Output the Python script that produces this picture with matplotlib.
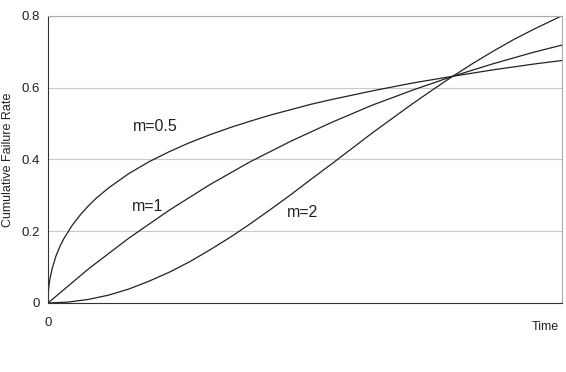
import matplotlib
matplotlib.use("Agg")
import matplotlib.pyplot as plt

plt.rcParams['font.family'] = ['Liberation Sans', 'DejaVu Sans']

# time in units of the characteristic life
t_half = [0, 0.001, 0.002, 0.003, 0.005, 0.01, 0.02, 0.03, 0.04, 0.06, 0.08, 0.1, 0.12,
          0.15, 0.2, 0.25, 0.3, 0.35, 0.4, 0.45, 0.5, 0.55, 0.6, 0.65, 0.7, 0.8, 0.9,
          1.0, 1.1, 1.2, 1.27]
f_half = [0, 0.031, 0.044, 0.053, 0.068, 0.095, 0.132, 0.159, 0.181, 0.217, 0.246, 0.271, 0.293,
          0.321, 0.361, 0.394, 0.422, 0.447, 0.469, 0.489, 0.507, 0.524, 0.539, 0.554, 0.567,
          0.591, 0.613, 0.632, 0.650, 0.666, 0.676]

t_one = [0, 0.1, 0.2, 0.3, 0.4, 0.5, 0.6, 0.7, 0.8, 0.9, 1.0, 1.1, 1.2, 1.27]
f_one = [0, 0.095, 0.181, 0.259, 0.330, 0.394, 0.451, 0.503, 0.551, 0.593, 0.632, 0.667, 0.699, 0.719]

t_two = [0, 0.05, 0.1, 0.15, 0.2, 0.25, 0.3, 0.35, 0.4, 0.45, 0.5, 0.55, 0.6, 0.65, 0.7,
         0.75, 0.8, 0.85, 0.9, 0.95, 1.0, 1.05, 1.1, 1.15, 1.2, 1.25, 1.27]
f_two = [0, 0.0025, 0.010, 0.022, 0.039, 0.061, 0.086, 0.115, 0.148, 0.183, 0.221, 0.261,
         0.302, 0.345, 0.387, 0.430, 0.473, 0.514, 0.555, 0.594, 0.632, 0.668, 0.702,
         0.734, 0.763, 0.790, 0.801]

yticks = [0, 0.2, 0.4, 0.6, 0.8]
ytick_labels = ['0', '0.2', '0.4', '0.6', '0.8']

fig = plt.figure(figsize=(5.66, 3.72), dpi=100)
ax = fig.add_axes([0.0848, 0.1855, 0.9082, 0.7715])

for t, f in [(t_half, f_half), (t_one, f_one), (t_two, f_two)]:
    ax.plot(t, f, color='#222222', lw=0.9)

ax.set_xlim(0, 1.27)
ax.set_ylim(0, 0.8)
ax.set_yticks(yticks)
ax.set_yticklabels(ytick_labels)
ax.set_xticks([0])
ax.set_xticklabels(['0'])
ax.tick_params(length=0, labelsize=9.5, colors='#222222')
ax.tick_params(axis='y', pad=6)
ax.tick_params(axis='x', pad=10)
ax.grid(axis='y', color='#c8c8c8', lw=0.8)
ax.set_axisbelow(True)

ax.spines['left'].set_color('#333333')
ax.spines['bottom'].set_color('#333333')
ax.spines['top'].set_color('#aaaaaa')
ax.spines['right'].set_color('#aaaaaa')

ax.set_ylabel('Cumulative Failure Rate', fontsize=9, color='#222222', labelpad=5)

ax.text(0.21, 0.492, 'm=0.5', fontsize=11.5, va='center', color='#222222')
ax.text(0.207, 0.268, 'm=1', fontsize=11.5, va='center', color='#222222')
ax.text(0.59, 0.252, 'm=2', fontsize=11.5, va='center', color='#222222')

fig.text(559 / 566, 1 - 327 / 372, 'Time', fontsize=9, ha='right', va='center', color='#222222')

fig.savefig('out.png', dpi=100)
